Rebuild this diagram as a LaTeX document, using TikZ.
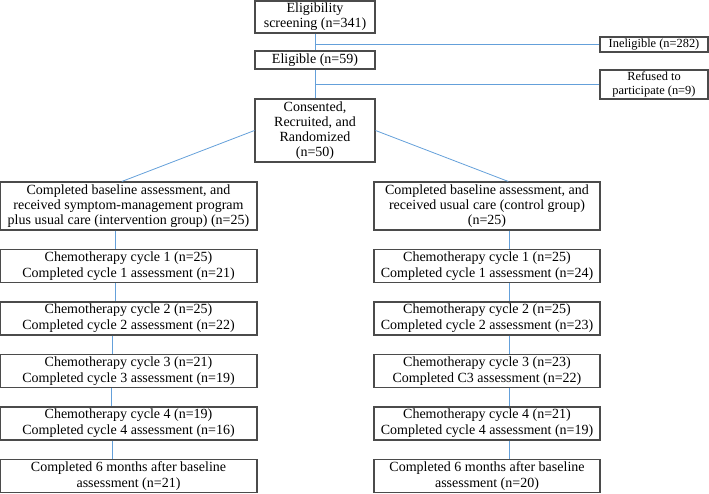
\documentclass[tikz,border=0pt]{standalone}
\usepackage{fontspec}
\setmainfont{Liberation Serif}
\definecolor{linkblue}{RGB}{100,160,218}
\definecolor{boxgray}{RGB}{75,75,75}
\tikzset{
  box/.style={draw=boxgray, line width=0.8pt, align=center, inner sep=1pt,
    font=\fontsize{10.5}{11.25}\selectfont},
  cyclebox/.style={box, font=\fontsize{10.5}{12}\selectfont},
  sidebox/.style={box, font=\fontsize{9.3}{11}\selectfont},
  link/.style={draw=linkblue, line width=0.6pt}
}
\begin{document}
\begin{tikzpicture}[x=0.75pt,y=-0.75pt]
      \useasboundingbox (0,0) rectangle (709,493);
      \node[box, minimum width=90pt, minimum height=24pt] (screen) at (315,17) {Eligibility\\screening (n=341)};
      \node[box, minimum width=90pt, minimum height=13.5pt] (elig) at (315,60) {Eligible (n=59)};
      \node[sidebox, minimum width=81pt, minimum height=11.25pt] (inelig) at (654,44.5) {Ineligible (n=282)};
      \node[sidebox, minimum width=81pt, minimum height=21.75pt] (refused) at (654,84.5) {Refused to\\participate (n=9)};
      \node[box, minimum width=90pt, minimum height=47.25pt] (consent) at (315,130.5) {Consented,\\Recruited, and\\Randomized\\(n=50)};
      \node[box, minimum width=192.75pt, minimum height=36pt] (intv) at (128.5,206) {Completed baseline assessment, and\\received symptom-management program\\plus usual care (intervention group) (n=25)};
      \node[box, minimum width=169.5pt, minimum height=36pt] (ctrl) at (487,206) {Completed baseline assessment, and\\received usual care (control group)\\(n=25)};
      \node[cyclebox, minimum width=192.75pt, minimum height=24.75pt] (L1) at (128.5,266) {Chemotherapy cycle 1 (n=25)\\Completed cycle 1 assessment (n=21)};
      \node[cyclebox, minimum width=192.75pt, minimum height=24.75pt] (L2) at (128.5,318.5) {Chemotherapy cycle 2 (n=25)\\Completed cycle 2 assessment (n=22)};
      \node[cyclebox, minimum width=192.75pt, minimum height=24.75pt] (L3) at (128.5,371) {Chemotherapy cycle 3 (n=21)\\Completed cycle 3 assessment (n=19)};
      \node[cyclebox, minimum width=192.75pt, minimum height=24.75pt] (L4) at (128.5,423.5) {Chemotherapy cycle 4 (n=19)\\Completed cycle 4 assessment (n=16)};
      \node[cyclebox, minimum width=192.75pt, minimum height=24.75pt] (L5) at (128.5,476) {Completed 6 months after baseline\\assessment (n=21)};
      \node[cyclebox, minimum width=169.5pt, minimum height=24.75pt] (R1) at (487,266) {Chemotherapy cycle 1 (n=25)\\Completed cycle 1 assessment (n=24)};
      \node[cyclebox, minimum width=169.5pt, minimum height=24.75pt] (R2) at (487,318.5) {Chemotherapy cycle 2 (n=25)\\Completed cycle 2 assessment (n=23)};
      \node[cyclebox, minimum width=169.5pt, minimum height=24.75pt] (R3) at (487,371) {Chemotherapy cycle 3 (n=23)\\Completed C3 assessment (n=22)};
      \node[cyclebox, minimum width=169.5pt, minimum height=24.75pt] (R4) at (487,423.5) {Chemotherapy cycle 4 (n=21)\\Completed cycle 4 assessment (n=19)};
      \node[cyclebox, minimum width=169.5pt, minimum height=24.75pt] (R5) at (487,476) {Completed 6 months after baseline\\assessment (n=20)};
      \begin{scope}[link]
        \draw (screen) to (elig);
        \draw (inelig.west) to (inelig.west -| screen.south);
        \draw (elig) to (consent);
        \draw (refused.west) to (refused.west -| elig.south);
        \draw (consent.west) to ([xshift=-5pt]intv.north);
        \draw (consent.east) to ([xshift=16pt]ctrl.north);
        \draw ([xshift=-10pt]intv.south) to ([xshift=-10pt]L1.north);
        \draw ([xshift=-10pt]L1.south) to ([xshift=-10pt]L2.north);
        \draw ([xshift=-12pt]L2.south) to ([xshift=-12pt]L3.north);
        \draw ([xshift=-13pt]L3.south) to ([xshift=-13pt]L4.north);
        \draw ([xshift=-12pt]L4.south) to ([xshift=-12pt]L5.north);
        \draw ([xshift=17pt]ctrl.south) to ([xshift=17pt]R1.north);
        \draw ([xshift=17pt]R1.south) to ([xshift=17pt]R2.north);
        \draw ([xshift=17pt]R2.south) to ([xshift=17pt]R3.north);
        \draw ([xshift=17pt]R3.south) to ([xshift=17pt]R4.north);
        \draw ([xshift=17pt]R4.south) to ([xshift=17pt]R5.north);
      \end{scope}
    \end{tikzpicture}
\end{document}
